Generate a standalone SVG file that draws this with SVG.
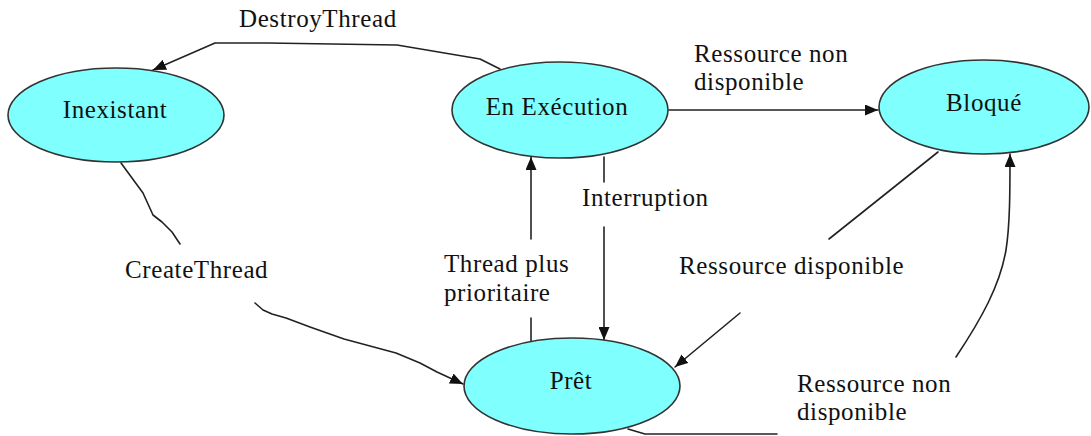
<svg xmlns="http://www.w3.org/2000/svg" width="1091" height="436" viewBox="0 0 1091 436">
  <style>
    .state ellipse { fill: #80FFFF; stroke: #333333; stroke-width: 1.6; }
    .state text { text-anchor: middle; }
    text { font-family: "Liberation Serif", "Times New Roman", serif; font-size: 25px; letter-spacing: 0.6px; fill: #111111; }
    .edge { fill: none; stroke: #222222; stroke-width: 1.6; stroke-linejoin: round; stroke-linecap: round; }
    .arrow { marker-end: url(#head); }
  </style>
  <defs>
    <marker id="head" markerUnits="userSpaceOnUse" markerWidth="13" markerHeight="11" refX="13" refY="5.5" orient="auto">
      <path d="M0,0 L13,5.5 L0,11 z" fill="#111111"/>
    </marker>
  </defs>

  <rect width="1091" height="436" fill="#ffffff"/>

  <!-- transitions -->
  <g id="connectors">
    <!-- En Exécution -> Inexistant -->
    <polyline class="edge arrow" points="500,69 480,59 397,45 267,43 215,43 153,70"/>
    <!-- En Exécution -> Bloqué -->
    <line class="edge arrow" x1="669" y1="110" x2="878" y2="110"/>
    <!-- En Exécution -> Prêt (interruption), split around its label -->
    <line class="edge" x1="604" y1="157" x2="604" y2="182"/>
    <line class="edge arrow" x1="604" y1="227" x2="604" y2="340"/>
    <!-- Prêt -> En Exécution (higher priority thread), split around its label -->
    <line class="edge" x1="531" y1="342" x2="531" y2="318"/>
    <line class="edge arrow" x1="531" y1="239" x2="531" y2="157"/>
    <!-- Inexistant -> Prêt (CreateThread), hand-drawn wavy stroke -->
    <polyline class="edge" points="121,163 132,178 143,193 153,215 162,222 172,232 180,244"/>
    <polyline class="edge arrow" points="255,303 263,310 272,314 286,318 310,327 344,339 396,353 420,363 437,372 463,384"/>
    <!-- Bloqué -> Prêt (resource available), split around its label -->
    <line class="edge" x1="938" y1="152" x2="829" y2="239"/>
    <line class="edge arrow" x1="740" y1="313" x2="675" y2="367"/>
    <!-- Prêt -> Bloqué (resource unavailable), split around its label -->
    <polyline class="edge" points="628,429 645,434 777,434"/>
    <path class="edge arrow" d="M956,357 C982,318 1000,285 1006,250 C1010,225 1010,190 1010,154"/>
  </g>

  <!-- transition labels -->
  <g id="labels">
    <text x="239" y="27">DestroyThread</text>
    <text x="694" y="62">Ressource non</text>
    <text x="694" y="90">disponible</text>
    <text x="582" y="206">Interruption</text>
    <text x="125" y="278">CreateThread</text>
    <text x="444" y="272">Thread plus</text>
    <text x="444" y="301">prioritaire</text>
    <text x="679" y="274">Ressource disponible</text>
    <text x="797" y="392">Ressource non</text>
    <text x="797" y="420">disponible</text>
  </g>

  <!-- states -->
  <g id="inexistant" class="state">
    <ellipse cx="116" cy="115" rx="108" ry="47"/>
    <text x="115" y="118">Inexistant</text>
  </g>
  <g id="execution" class="state">
    <ellipse cx="560" cy="110" rx="108" ry="48"/>
    <text x="557" y="115">En Exécution</text>
  </g>
  <g id="bloque" class="state">
    <ellipse cx="984" cy="107" rx="105" ry="47"/>
    <text x="984" y="111">Bloqué</text>
  </g>
  <g id="pret" class="state">
    <ellipse cx="572" cy="386" rx="108" ry="48"/>
    <text x="571" y="389">Prêt</text>
  </g>
</svg>
